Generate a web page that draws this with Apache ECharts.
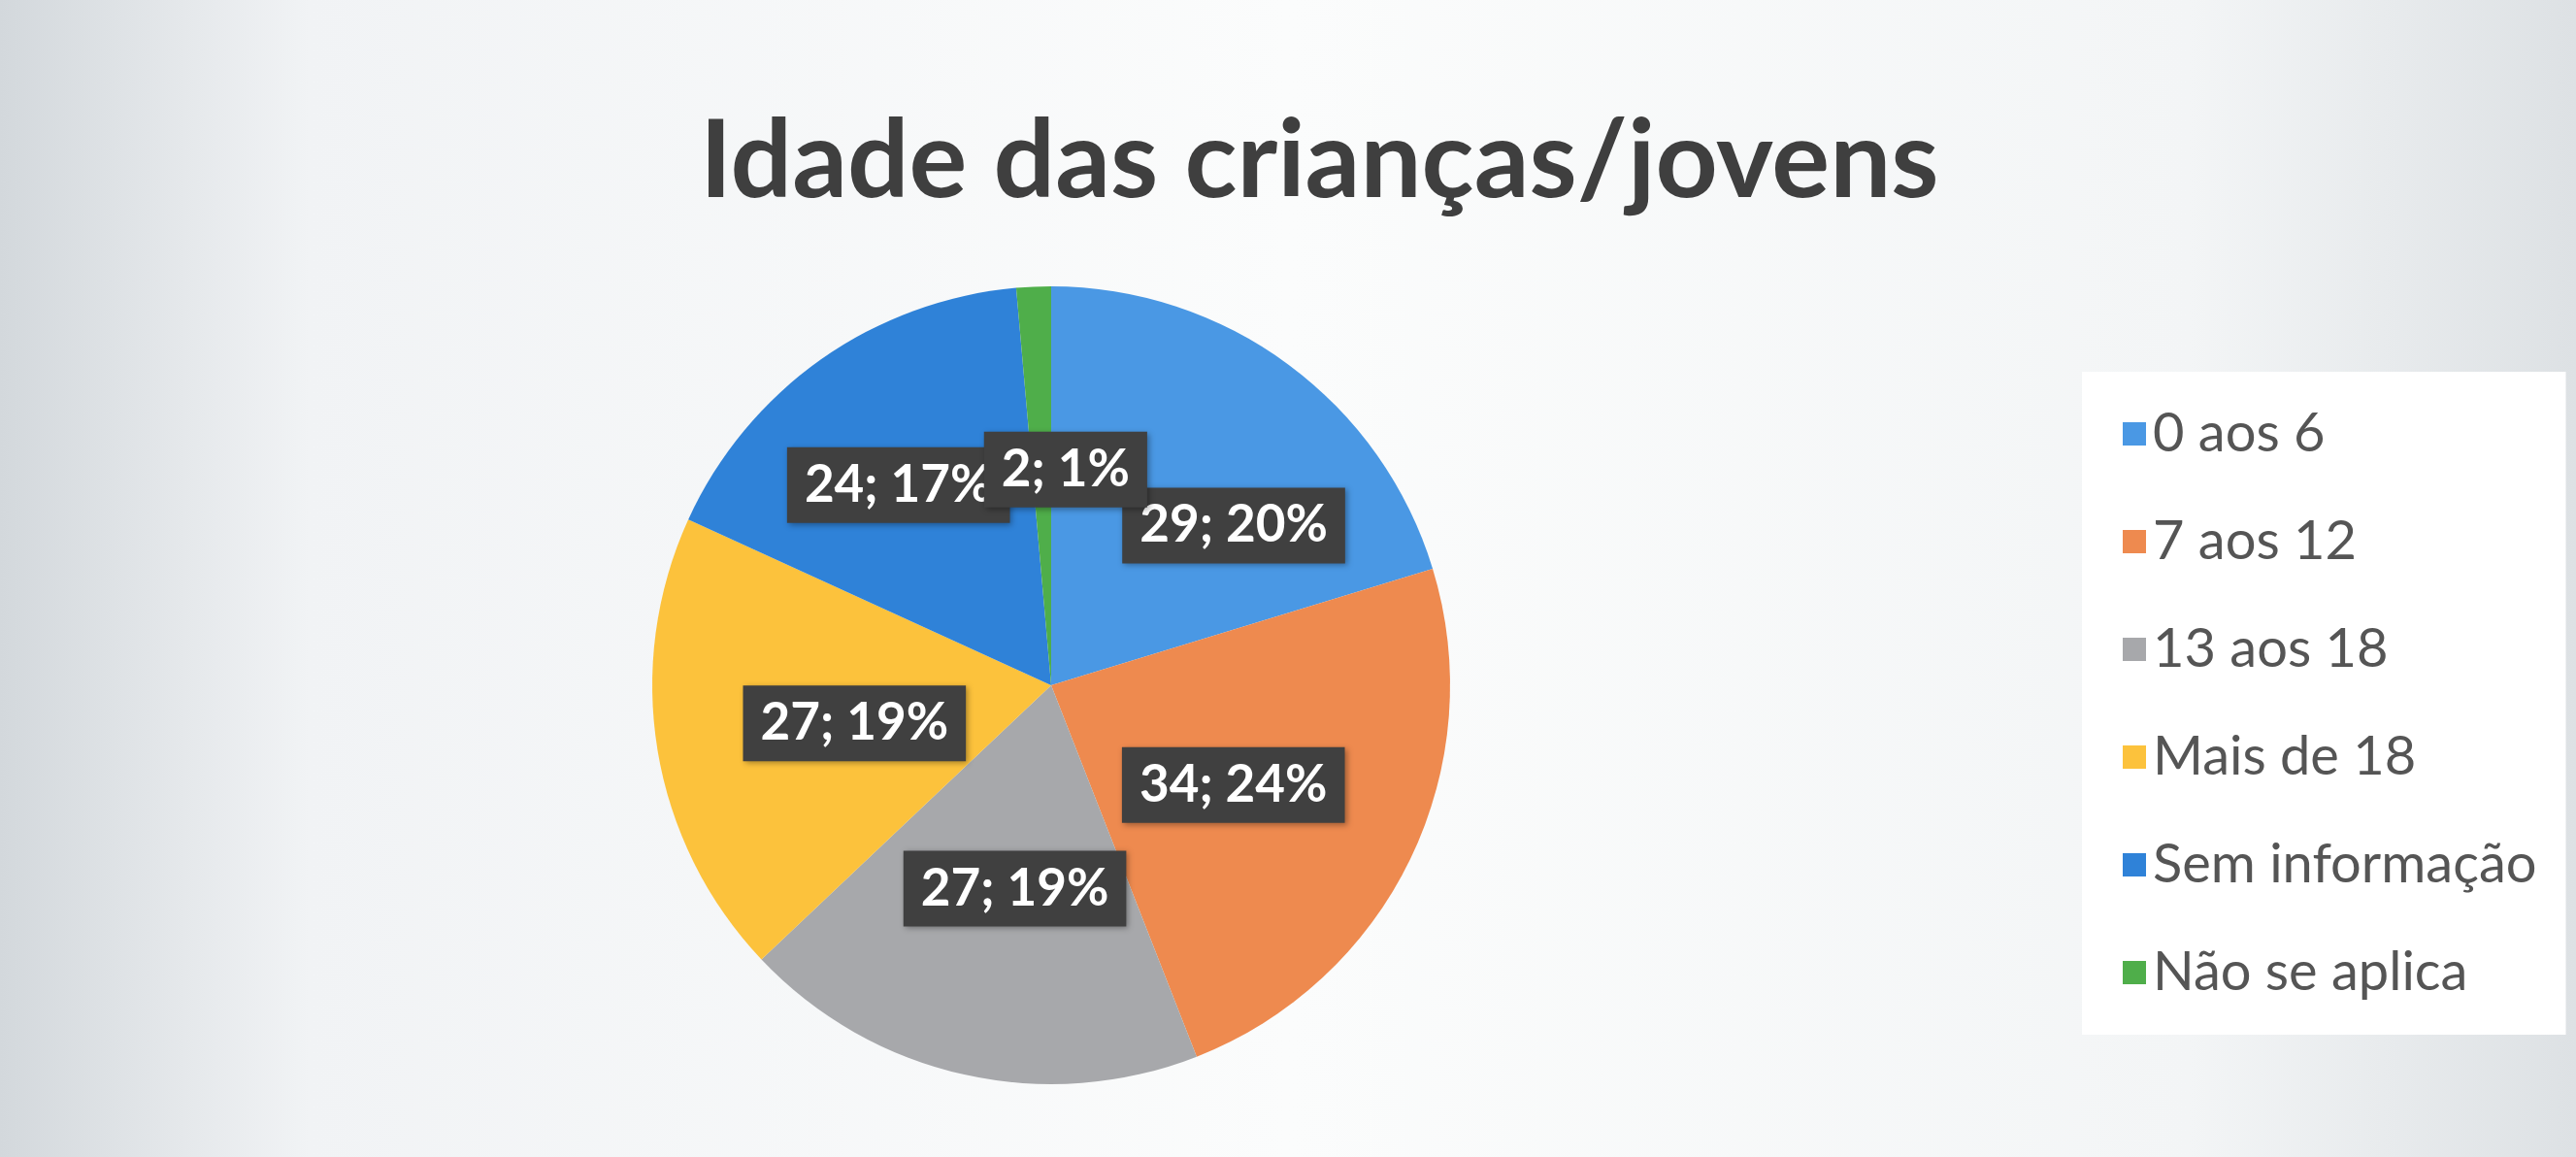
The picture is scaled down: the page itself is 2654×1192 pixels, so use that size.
<!DOCTYPE html>
<html>
<head>
<meta charset="utf-8">
<title>Idade das crianças/jovens</title>
<script src="https://cdn.jsdelivr.net/npm/echarts@6/dist/echarts.min.js"></script>
<style>
  html, body { margin: 0; padding: 0; }
  #chart { width: 2654px; height: 1192px; }
</style>
</head>
<body>
<div id="chart"></div>
<script>
// dados
var categorias = ["0 aos 6", "7 aos 12", "13 aos 18", "Mais de 18", "Sem informação", "Não se aplica"];
var valores = [29, 34, 27, 27, 24, 2];
var cores = ["#4a98e4", "#ee8a4f", "#a7a8ab", "#fcc23c", "#2f82d8", "#4fae4a"];
// pequenos deslocamentos dos rótulos (como o "melhor ajuste" do Excel)
var ajusteRotulos = [[64, 3], [0, 12], [8, 6], [3, 5], [-37, -36], [24, -14]];

var chart = echarts.init(document.getElementById("chart"));

var dados = categorias.map(function (nome, i) {
  return { name: nome, value: valores[i], itemStyle: { color: cores[i] } };
});

var option = {
  backgroundColor: {
    type: "linear", x: 0, y: 0, x2: 1, y2: 0,
    colorStops: [
      { offset: 0, color: "#d3d8dc" },
      { offset: 0.12, color: "#f1f3f5" },
      { offset: 0.5, color: "#fbfcfc" },
      { offset: 0.85, color: "#f3f5f6" },
      { offset: 1, color: "#dde1e4" }
    ]
  },
  title: {
    text: "Idade das crianças/jovens",
    left: 716,
    top: 106,
    textStyle: {
      fontFamily: "Lato",
      fontWeight: "bold",
      fontSize: 112,
      color: "#3f3f3f"
    }
  },
  legend: {
    orient: "vertical",
    left: 2145,
    top: 383,
    padding: [36, 30, 36, 42],
    backgroundColor: "#ffffff",
    itemWidth: 24,
    itemHeight: 24,
    itemGap: 55,
    icon: "rect",
    data: categorias,
    textStyle: {
      fontFamily: "Lato",
      fontSize: 56,
      color: "#555555",
      padding: [0, 0, 0, 2]
    }
  },
  series: [
    {
      name: "Idade",
      type: "pie",
      center: [1083, 706],
      radius: 411,
      startAngle: 90,
      clockwise: true,
      percentPrecision: 0,
      silent: true,
      labelLayout: function (params) {
        var a = ajusteRotulos[params.dataIndex];
        return { dx: a[0], dy: a[1], hideOverlap: false };
      },
      label: {
        show: true,
        position: "inside",
        formatter: "{c}; {d}%",
        fontFamily: "Lato",
        fontWeight: "bold",
        fontSize: 53,
        color: "#ffffff",
        backgroundColor: "#404040",
        padding: [14, 18, 11, 18],
        shadowColor: "rgba(0,0,0,0.35)",
        shadowBlur: 6,
        shadowOffsetX: 2,
        shadowOffsetY: 2
      },
      labelLine: { show: false },
      data: dados
    }
  ]
};

chart.setOption(option);
</script>
</body>
</html>
